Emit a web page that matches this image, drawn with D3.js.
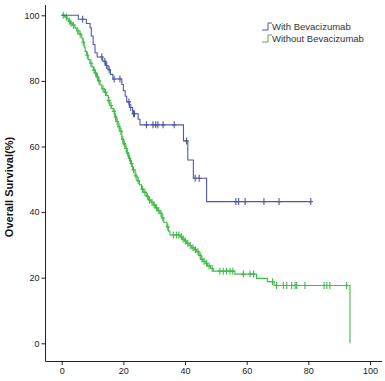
<!DOCTYPE html>
<html>
<head>
<meta charset="utf-8">
<script src="https://cdn.jsdelivr.net/npm/d3@7"></script>
<style>
  body { margin: 0; background: #fff; }
  svg { display: block; font-family: Arial, "Liberation Sans", sans-serif; }
  .axis text { font-size: 9px; fill: #222; }
  .axis path, .axis line { stroke: #222; }
</style>
</head>
<body>
<div id="chart"></div>
<script>
// steps: [month, survival % after the drop]
let withSteps = [[0, 100], [5.4, 98.8], [8.0, 97.5], [9.2, 96.2], [9.6, 93.7], [10.2, 91.1], [10.8, 88.6],
    [11.5, 87.3], [13.3, 86.0], [14.2, 84.7], [15.0, 83.4], [15.8, 82.0], [16.6, 80.6], [19.5, 78.9],
    [20.0, 77.0], [20.6, 75.3], [21.1, 73.6], [22.0, 71.9], [23.0, 70.0], [24.8, 68.3], [25.4, 66.6],
    [39.5, 61.7], [40.9, 55.9], [42.7, 50.3], [47.0, 43.2]];
let withEnd = 80.8;
let withCensor = [6.8, 13.0, 14.0, 14.6, 15.4, 17.0, 18.9, 21.8, 22.4, 23.3, 23.6, 27.5, 29.6, 30.5, 31.2,
    32.9, 36.5, 40.5, 43.3, 44.6, 56.5, 57.4, 59.5, 65.6, 70.5, 80.8];

let withoutSteps = [[0, 100], [1.0, 99.5], [1.6, 99.0], [2.1, 98.2], [2.8, 97.6], [3.4, 97.0], [4.3, 96.1],
    [4.9, 95.3], [5.6, 94.2], [6.5, 93.0], [6.9, 91.8], [7.3, 90.3], [7.6, 89.0], [8.1, 87.8], [8.6, 86.5],
    [9.2, 85.4], [9.8, 84.2], [10.3, 83.3], [10.8, 82.4], [11.3, 81.2], [11.9, 80.0], [12.4, 78.8],
    [13.0, 77.6], [13.8, 76.5], [14.6, 75.5], [15.1, 74.0], [15.6, 72.5], [16.2, 71.6], [16.7, 70.7],
    [17.2, 69.0], [17.7, 67.6], [18.3, 66.0], [18.9, 64.6], [19.5, 62.2], [20.0, 60.8], [20.6, 59.4],
    [21.1, 58.0], [21.7, 56.4], [22.3, 54.8], [23.0, 52.9], [23.8, 51.0], [24.5, 49.6], [25.2, 48.3],
    [25.9, 47.0], [26.6, 46.0], [27.4, 44.8], [28.1, 43.7], [28.9, 43.0], [29.7, 42.2], [30.4, 41.3],
    [31.1, 40.4], [31.9, 39.6], [32.5, 38.2], [33.1, 36.9], [34.1, 35.5], [34.6, 34.2], [35.1, 33.0],
    [38.4, 32.5], [39.1, 31.8], [39.8, 31.2], [40.5, 30.5], [41.3, 29.8], [42.2, 29.1], [43.0, 28.5],
    [43.8, 27.9], [44.5, 26.8], [45.2, 25.6], [45.8, 25.0], [46.5, 24.4], [47.3, 23.6], [48.3, 22.8],
    [49.2, 22.0], [56.2, 21.1], [63.2, 19.8], [66.7, 18.8], [68.9, 17.6], [93.5, 0]];
let withoutEnd = 93.5;
let withoutCensor = [0.5, 1.5, 2.5, 3.0, 3.8, 5.2, 6.0, 7.0, 8.3, 9.5, 10.5, 11.0, 11.6, 12.1, 13.4, 14.2,
    15.3, 16.0, 17.0, 17.5, 18.0, 18.6, 19.2, 19.8, 20.3, 20.9, 21.4, 22.0, 22.6, 23.3, 24.1, 24.8, 26.2,
    27.0, 27.8, 28.5, 29.3, 30.0, 30.8, 31.5, 32.2, 32.8, 34.4, 36.2, 37.2, 38.0, 38.8, 39.4, 40.1, 40.9,
    41.7, 42.6, 43.4, 44.2, 44.9, 45.5, 46.2, 47.0, 47.8, 48.8, 51.3, 52.4, 53.5, 54.6, 55.5, 58.9, 61.1,
    62.2, 68.4, 69.7, 71.9, 73.0, 74.6, 75.7, 76.2, 78.9, 85.1, 86.0, 87.0, 92.4];

let xTicks = [0, 20, 40, 60, 80, 100];
let yTicks = [0, 20, 40, 60, 80, 100];
let seriesNames = ["With Bevacizumab", "Without Bevacizumab"];
let colors = ["#4d5aa8", "#3fbb47"];

let width = 385, height = 381;

let svg = d3.select("#chart").append("svg")
    .attr("width", width)
    .attr("height", height);

let x = d3.scaleLinear().domain([0, 100]).range([61.7, 370]);
let y = d3.scaleLinear().domain([0, 100]).range([343.3, 15.3]);

// axes
let xAxis = d3.axisBottom(x).tickValues(xTicks).tickSize(4).tickSizeOuter(0).tickPadding(3);
let xg = svg.append("g").attr("class", "axis").attr("transform", "translate(0,361)").call(xAxis);
xg.select(".domain").attr("d", "M45.5,0.5H382");
xg.selectAll(".tick line").attr("y1", 0).attr("y2", 4);

let yAxis = d3.axisLeft(y).tickValues(yTicks).tickSize(4).tickSizeOuter(0).tickPadding(2);
let yg = svg.append("g").attr("class", "axis").attr("transform", "translate(45.5,0)").call(yAxis);
yg.select(".domain").attr("d", "M0,5V361.5");

svg.append("text")
    .attr("transform", "translate(13,187) rotate(-90)")
    .attr("text-anchor", "middle")
    .style("font-size", "11px")
    .style("font-weight", "bold")
    .attr("fill", "#111")
    .text("Overall Survival(%)");

// km step path
function kmPath(steps, end) {
    let pts = steps.map(d => [x(d[0]), y(d[1])]);
    let last = steps[steps.length - 1];
    if (end > last[0]) pts.push([x(end), y(last[1])]);
    return d3.line().curve(d3.curveStepAfter)(pts);
}

function survAt(steps, t) {
    let s = 100;
    steps.forEach(d => { if (d[0] <= t) s = d[1]; });
    return s;
}

let groups = [
    {steps: withoutSteps, end: withoutEnd, censor: withoutCensor, color: colors[1]},
    {steps: withSteps, end: withEnd, censor: withCensor, color: colors[0]}
];

groups.forEach(g => {
    svg.append("path")
        .attr("d", kmPath(g.steps, g.end))
        .attr("fill", "none")
        .attr("stroke", g.color)
        .attr("stroke-width", 1.1);

    svg.selectAll(null)
        .data(g.censor)
        .enter()
        .append("path")
        .attr("d", t => {
            let cx = x(t), cy = y(survAt(g.steps, t));
            return `M${cx},${cy - 3.5}V${cy + 3.5}M${cx - 2},${cy}H${cx + 2}`;
        })
        .attr("stroke", g.color)
        .attr("stroke-width", 1.1);
});

// legend
let legend = svg.append("g").attr("transform", "translate(262,0)");
seriesNames.forEach((name, i) => {
    let ly = 27 + i * 12;
    legend.append("path")
        .attr("d", `M0,${ly + 3}H6V${ly - 4}H10`)
        .attr("fill", "none")
        .attr("stroke", colors[i])
        .attr("stroke-width", 1);
    legend.append("text")
        .attr("x", 10)
        .attr("y", ly + 3)
        .style("font-size", "9.5px")
        .attr("fill", "#333")
        .text(name);
});
</script>
</body>
</html>
